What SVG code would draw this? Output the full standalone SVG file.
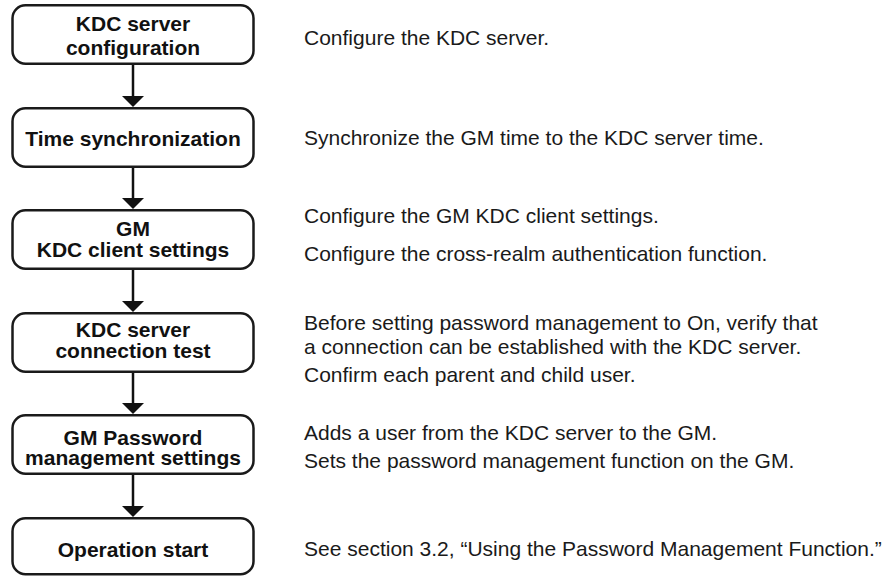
<svg xmlns="http://www.w3.org/2000/svg" width="896" height="578" viewBox="0 0 896 578">
  <style>
    .box { fill: #ffffff; stroke: #1a1a1a; stroke-width: 2.5; }
    .step { font-family: "Liberation Sans", Arial, sans-serif; font-size: 21px; font-weight: bold; fill: #111111; text-anchor: middle; }
    .note { font-family: "Liberation Sans", Arial, sans-serif; font-size: 21px; fill: #1a1a1a; }
    .link { stroke: #111111; stroke-width: 2.5; fill: none; marker-end: url(#head); }
  </style>
  <defs>
    <marker id="head" markerUnits="userSpaceOnUse" markerWidth="11" markerHeight="22" viewBox="0 0 11 22" refX="0" refY="11" orient="auto">
      <path d="M0,0 L11,11 L0,22 Z" fill="#111111"/>
    </marker>
  </defs>

  <rect width="896" height="578" fill="#ffffff"/>

  <!-- connectors between steps -->
  <g id="connectors">
    <path class="link" d="M133,65 V96"/>
    <path class="link" d="M133,168 V198"/>
    <path class="link" d="M133,270 V301"/>
    <path class="link" d="M133,373 V403"/>
    <path class="link" d="M133,475 V506"/>
  </g>

  <!-- flow steps -->
  <g id="step-kdc-config">
    <rect class="box" x="12.5" y="5.25" width="241" height="58.5" rx="13"/>
    <text class="step" x="133" y="30.5">KDC server</text>
    <text class="step" x="133" y="55">configuration</text>
  </g>
  <g id="step-time-sync">
    <rect class="box" x="12.5" y="108.25" width="241" height="58.5" rx="13"/>
    <text class="step" x="133" y="146">Time synchronization</text>
  </g>
  <g id="step-client-settings">
    <rect class="box" x="12.5" y="210.25" width="241" height="58.5" rx="13"/>
    <text class="step" x="133" y="235.5">GM</text>
    <text class="step" x="133" y="256.5">KDC client settings</text>
  </g>
  <g id="step-connection-test">
    <rect class="box" x="12.5" y="313.25" width="241" height="58.5" rx="13"/>
    <text class="step" x="133" y="337">KDC server</text>
    <text class="step" x="133" y="358">connection test</text>
  </g>
  <g id="step-password-settings">
    <rect class="box" x="12.5" y="415.25" width="241" height="58.5" rx="13"/>
    <text class="step" x="133" y="445">GM Password</text>
    <text class="step" x="133" y="465">management settings</text>
  </g>
  <g id="step-operation-start">
    <rect class="box" x="12.5" y="518.25" width="241" height="56" rx="13"/>
    <text class="step" x="133" y="556.5">Operation start</text>
  </g>

  <!-- descriptions -->
  <g id="notes">
    <text class="note" x="304" y="45">Configure the KDC server.</text>
    <text class="note" x="304" y="145">Synchronize the GM time to the KDC server time.</text>
    <text class="note" x="304" y="222.5">Configure the GM KDC client settings.</text>
    <text class="note" x="304" y="260.5">Configure the cross-realm authentication function.</text>
    <text class="note" x="304" y="329.5">Before setting password management to On, verify that</text>
    <text class="note" x="304" y="353.5">a connection can be established with the KDC server.</text>
    <text class="note" x="304" y="381.5">Confirm each parent and child user.</text>
    <text class="note" x="304" y="440">Adds a user from the KDC server to the GM.</text>
    <text class="note" x="304" y="468">Sets the password management function on the GM.</text>
    <text class="note" x="304" y="556">See section 3.2, “Using the Password Management Function.”</text>
  </g>
</svg>
